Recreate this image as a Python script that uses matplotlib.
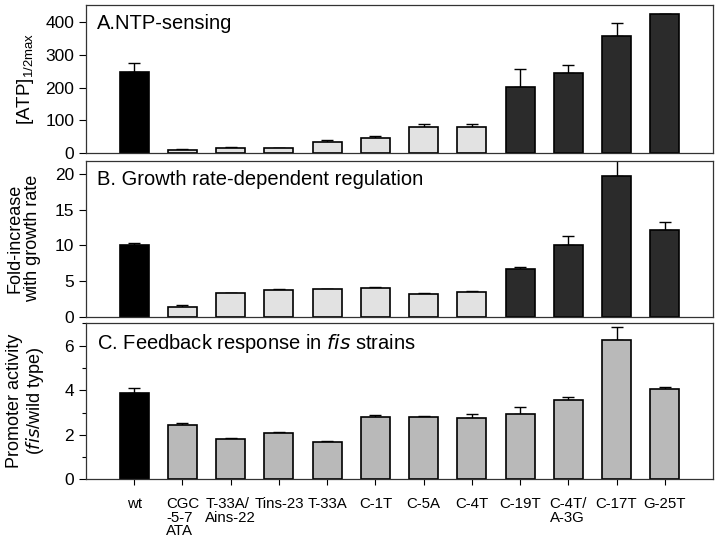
import numpy as np
import matplotlib
matplotlib.use("Agg")
import matplotlib.pyplot as plt
from matplotlib.ticker import MultipleLocator

plt.rcParams['font.family'] = ['Liberation Sans', 'DejaVu Sans']

labels = ["wt", "CGC\n-5-7\nATA", "T-33A/\nAins-22", "Tins-23", "T-33A", "C-1T",
          "C-5A", "C-4T", "C-19T", "C-4T/\nA-3G", "C-17T", "G-25T"]

# A. NTP-sensing
ntp_vals = [247, 10, 16, 14, 35, 45, 78, 78, 202, 243, 356, 423]
ntp_err = [27, 1, 1, 1, 4, 8, 10, 12, 54, 25, 41, 3]

# B. Growth rate-dependent regulation
grr_vals = [10.0, 1.4, 3.27, 3.7, 3.88, 3.97, 3.13, 3.46, 6.72, 10.1, 19.75, 12.2]
grr_err = [0.35, 0.2, 0.0, 0.15, 0.05, 0.15, 0.15, 0.2, 0.2, 1.2, 2.6, 1.1]

# C. Feedback response in fis strains
fis_vals = [3.86, 2.45, 1.81, 2.07, 1.66, 2.80, 2.81, 2.74, 2.95, 3.55, 6.25, 4.07]
fis_err = [0.25, 0.08, 0.06, 0.05, 0.08, 0.08, 0.02, 0.18, 0.28, 0.16, 0.60, 0.09]

black = "#000000"
light = "#e2e2e2"
dark = "#2b2b2b"
mid = "#b9b9b9"
colors_ab = [black] + [light] * 7 + [dark] * 4
colors_c = [black] + [mid] * 11

x = np.arange(len(labels))

fig = plt.figure(figsize=(7.17, 5.4), dpi=100)
left, width = 86 / 717, 627 / 717
axA = fig.add_axes([left, 1 - 153 / 540, width, 148 / 540])
axB = fig.add_axes([left, 1 - 316.7 / 540, width, 156 / 540])
axC = fig.add_axes([left, 1 - 479.3 / 540, width, 156.3 / 540])


def draw(ax, vals, err, colors, ylim, major, title):
    ax.bar(x, vals, width=0.6, color=colors, edgecolor="black", linewidth=1.2, zorder=2)
    ax.errorbar(x, vals, yerr=[np.zeros(len(vals)), err], fmt="none", ecolor="black",
                elinewidth=1.0, capsize=4.5, capthick=1.0, zorder=1)
    ax.set_xlim(-1, 12)
    ax.set_ylim(0, ylim)
    ax.yaxis.set_major_locator(MultipleLocator(major))
    ax.tick_params(axis="y", direction="out", length=5, labelsize=12.5, width=0.8)
    for s in ax.spines.values():
        s.set_linewidth(0.9)
        s.set_color("#333333")
    if title:
        ax.text(0.017, 0.94, title, transform=ax.transAxes, ha="left", va="top", fontsize=14.5)


draw(axA, ntp_vals, ntp_err, colors_ab, 452, 100, "A.NTP-sensing")
axA.set_xticks([])
axA.set_ylabel(r"[ATP]$_{\mathregular{1/2max}}$", fontsize=13.5)

draw(axB, grr_vals, grr_err, colors_ab, 21.85, 5, "B. Growth rate-dependent regulation")
axB.set_xticks([])
axB.set_ylabel("Fold-increase\nwith growth rate", fontsize=13, linespacing=1.05)

draw(axC, fis_vals, fis_err, colors_c, 7.02, 2, "")
axC.text(0.017, 0.94, r"C. Feedback response in $\mathit{fis}$ strains", transform=axC.transAxes,
         ha="left", va="top", fontsize=14.5)
axC.yaxis.set_minor_locator(MultipleLocator(1))
axC.tick_params(axis="y", which="minor", direction="out", length=3, width=0.8)
axC.set_xticks(x)
axC.set_xticklabels(labels, fontsize=10.8, linespacing=0.93, multialignment="left", va="top")
axC.tick_params(axis="x", direction="out", length=4, pad=9, width=0.8)
axC.set_ylabel("Promoter activity\n(" + r"$\mathit{fis}$" + "/wild type)", fontsize=13, linespacing=1.05)

for ax, lx in ((axA, 26), (axB, 24), (axC, 26)):
    ax.yaxis.label.set_va("center")
    ax.yaxis.set_label_coords((lx - 86) / 627, 0.5)

fig.savefig("out.png", dpi=100)
